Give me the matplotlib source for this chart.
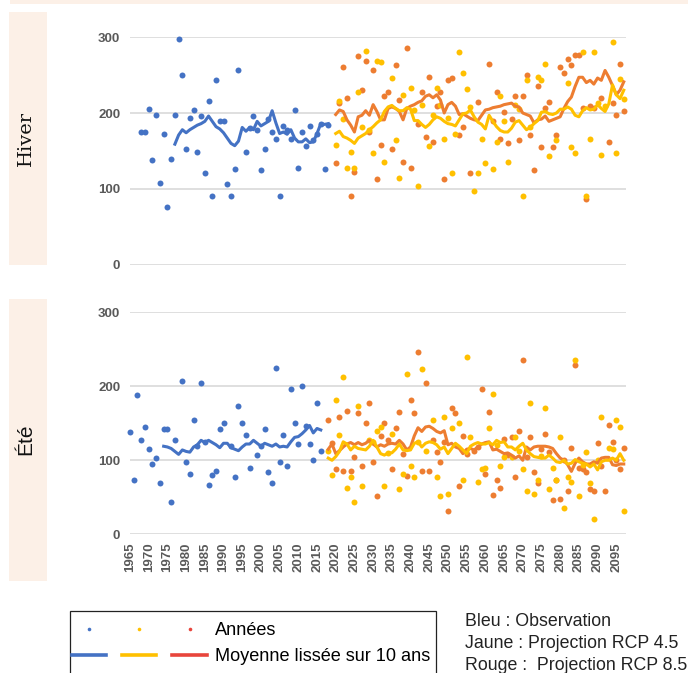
import matplotlib
matplotlib.use("Agg")
import matplotlib.pyplot as plt
from matplotlib.patches import Rectangle
from matplotlib.lines import Line2D
from matplotlib.legend_handler import HandlerTuple

plt.rcParams['font.family'] = ['Liberation Sans', 'DejaVu Sans']

BLUE = '#4472C4'
YELLOW = '#FFC000'
ORANGE = '#ED7D31'
RED = '#E8453C'
PEACH = '#FCF0E7'
GREY = '#595959'

# ---------------- Hiver ----------------
hiver_obs_years = list(range(1968, 1995)) + list(range(1996, 2019))
hiver_obs = [175, 175, 205, 138, 197, 108, 173, 76, 139, 197,
             297, 250, 153, 194, 204, 149, 196, 121, 216, 91,
             243, 190, 189, 106, 91, 126, 257,
             149, 180, 196, 178, 125, 153, 192, 175, 166, 91,
             183, 178, 166, 204, 128, 175, 157, 183, 164, 173,
             186, 126, 184]
hiver_obs_smooth_years = list(range(1977, 2019))
hiver_obs_smooth = [159, 171, 178, 174, 178, 181, 184, 186, 189, 196,
                    189, 182, 179, 174, 167, 160, 157, 163, 181, 176,
                    181, 178, 189, 183, 186, 189, 203, 187, 173, 175,
                    172, 178, 167, 162, 162, 166, 161, 162, 173, 186,
                    185, 186]

hiver_rcp45_years = [2020, 2021, 2022, 2023, 2024, 2025, 2026, 2027, 2028, 2029,
                     2030, 2031, 2032, 2033, 2035, 2036, 2037, 2038, 2040, 2041,
                     2042, 2043, 2045, 2046, 2047, 2048, 2049, 2050, 2051, 2052,
                     2053, 2054, 2055, 2056, 2057, 2058, 2059, 2060, 2062, 2063,
                     2064, 2065, 2066, 2068, 2069, 2070, 2071, 2072, 2074, 2075,
                     2076, 2077, 2079, 2082, 2083, 2084, 2086, 2087, 2088, 2089,
                     2090, 2091, 2092, 2094, 2095, 2096, 2097]
hiver_rcp45 = [158, 216, 192, 128, 149, 127, 228, 181, 282, 178,
               147, 269, 267, 136, 246, 164, 115, 224, 233, 204,
               104, 211, 157, 197, 233, 211, 166, 194, 121, 173,
               280, 252, 232, 208, 98, 121, 166, 134, 126, 162,
               222, 189, 136, 211, 205, 91, 243, 181, 248, 244,
               265, 143, 164, 239, 155, 147, 280, 91, 166, 280,
               213, 145, 209, 293, 147, 245, 218]

hiver_rcp85_years = [2020, 2021, 2022, 2023, 2024, 2025, 2026, 2027, 2028, 2029,
                     2030, 2031, 2032, 2033, 2034, 2035, 2036, 2037, 2038, 2039,
                     2040, 2042, 2043, 2044, 2045, 2046, 2047, 2048, 2049, 2050,
                     2051, 2053, 2054, 2056, 2058, 2061, 2062, 2063, 2064, 2065,
                     2066, 2067, 2068, 2069, 2070, 2071, 2072, 2073, 2074, 2075,
                     2076, 2077, 2078, 2079, 2080, 2081, 2082, 2083, 2084, 2085,
                     2086, 2087, 2088, 2089, 2091, 2093, 2094, 2095, 2096, 2097]
hiver_rcp85 = [134, 213, 260, 220, 91, 123, 275, 230, 269, 175,
               256, 113, 158, 222, 228, 153, 263, 217, 136, 286,
               128, 186, 228, 168, 248, 162, 209, 228, 113, 243,
               246, 171, 181, 121, 214, 265, 190, 228, 166, 201,
               160, 192, 223, 164, 222, 250, 171, 125, 235, 155,
               207, 214, 155, 171, 261, 252, 271, 263, 276, 276,
               207, 87, 209, 207, 220, 162, 213, 198, 265, 203]

hiver_proj_smooth_years = list(range(2020, 2098))
hiver_rcp45_smooth = [173, 176, 169, 167, 164, 160, 167, 170, 173, 178,
                      182, 187, 191, 202, 208, 210, 206, 203, 203, 207,
                      205, 190, 190, 185, 181, 185, 191, 195, 193, 189,
                      186, 185, 183, 191, 199, 200, 204, 195, 188, 185,
                      179, 197, 189, 182, 177, 175, 175, 180, 188, 190,
                      184, 178, 181, 186, 190, 201, 202, 199, 198, 200,
                      205, 205, 208, 205, 197, 195, 203, 207, 204, 205,
                      211, 206, 202, 212, 237, 224, 219, 230]
hiver_rcp85_smooth = [198, 204, 202, 191, 184, 175, 195, 197, 203, 197,
                      211, 202, 191, 191, 206, 208, 206, 202, 191, 206,
                      209, 211, 214, 216, 222, 224, 220, 224, 217, 200,
                      211, 214, 209, 198, 199, 196, 193, 191, 190, 197,
                      204, 205, 207, 208, 209, 211, 212, 213, 209, 208,
                      200, 198, 196, 187, 191, 192, 196, 189, 191, 193,
                      195, 206, 215, 221, 235, 247, 247, 240, 243, 238,
                      246, 243, 256, 247, 236, 224, 230, 241]

# ---------------- Été ----------------
ete_obs_years = (list(range(1965, 1978)) + list(range(1979, 1991))
                 + list(range(1992, 1998)) + list(range(1999, 2017)))
ete_obs = [138, 73, 188, 128, 145, 115, 95, 103, 69, 142, 142, 44, 128,
           207, 98, 82, 154, 119, 205, 125, 67, 80, 86, 142, 150,
           119, 78, 173, 150, 134, 90,
           107, 119, 142, 84, 69, 225, 98, 134, 92, 196, 151, 122, 201,
           146, 122, 101, 177, 113]
ete_obs_smooth_years = list(range(1974, 2017))
ete_obs_smooth = [119, 118, 116, 112, 108, 114, 112, 111, 118, 121,
                  127, 124, 127, 124, 121, 117, 123, 123, 117, 115,
                  113, 118, 122, 122, 127, 123, 119, 123, 121, 119,
                  122, 118, 119, 118, 125, 131, 132, 136, 141, 147,
                  137, 143, 141]

ete_rcp45_years = [2018, 2019, 2020, 2021, 2022, 2023, 2024, 2025, 2026, 2027,
                   2029, 2030, 2031, 2032, 2033, 2034, 2035, 2037, 2038, 2039,
                   2040, 2041, 2042, 2043, 2044, 2046, 2047, 2048, 2049, 2050,
                   2051, 2053, 2054, 2055, 2056, 2058, 2059, 2060, 2061, 2062,
                   2063, 2064, 2065, 2067, 2068, 2069, 2070, 2071, 2072, 2073,
                   2074, 2075, 2076, 2077, 2078, 2079, 2080, 2081, 2082, 2083,
                   2084, 2085, 2086, 2087, 2088, 2089, 2090, 2091, 2093, 2094,
                   2095, 2096, 2097]
ete_rcp45 = [113, 80, 182, 134, 213, 63, 77, 44, 173, 65,
             127, 125, 139, 145, 65, 110, 136, 61, 81, 217,
             92, 77, 125, 223, 113, 154, 77, 52, 158, 55,
             144, 150, 74, 240, 131, 71, 88, 90, 144, 190,
             121, 92, 105, 105, 131, 113, 88, 58, 177, 54,
             74, 106, 171, 61, 90, 73, 132, 36, 77, 71,
             236, 52, 93, 111, 69, 21, 101, 158, 117, 115,
             154, 145, 31]

ete_rcp85_years = [2018, 2019, 2020, 2021, 2022, 2023, 2024, 2025, 2026, 2027,
                   2028, 2029, 2030, 2031, 2032, 2033, 2034, 2035, 2036, 2037,
                   2038, 2039, 2040, 2041, 2042, 2043, 2044, 2045, 2046, 2047,
                   2048, 2049, 2050, 2051, 2052, 2053, 2054, 2055, 2057, 2058,
                   2059, 2060, 2061, 2062, 2063, 2064, 2065, 2066, 2067, 2068,
                   2069, 2070, 2071, 2072, 2073, 2074, 2075, 2076, 2077, 2078,
                   2079, 2080, 2081, 2082, 2083, 2084, 2085, 2086, 2087, 2088,
                   2089, 2090, 2091, 2092, 2093, 2094, 2095, 2096, 2097]
ete_rcp85 = [154, 123, 88, 158, 86, 167, 86, 104, 164, 92,
             150, 177, 98, 52, 133, 150, 128, 88, 144, 165,
             109, 79, 181, 164, 246, 86, 205, 86, 128, 111,
             98, 125, 31, 171, 164, 65, 133, 109, 112, 118,
             196, 82, 165, 53, 74, 63, 129, 107, 131, 77,
             140, 236, 105, 132, 84, 69, 115, 136, 111, 46,
             74, 48, 101, 58, 117, 229, 90, 88, 84, 61,
             58, 123, 92, 58, 148, 125, 101, 88, 117]

ete_proj_smooth_years = list(range(2018, 2098))
ete_rcp45_smooth = [103, 100, 105, 112, 125,
                    122, 114, 119, 116, 115, 114, 119,
                    127, 118, 109, 107, 110, 110, 115, 122, 114, 113,
                    114, 123, 125, 118, 123, 125, 124, 121, 115, 118,
                    109, 116, 123, 119, 114, 109, 119, 122, 124, 122,
                    122, 124, 121, 127, 124, 125, 118, 118, 114, 119,
                    123, 114, 109, 105, 104, 103, 103, 107, 103, 98,
                    97, 100, 95, 96, 101, 98, 96, 95, 91, 95,
                    87, 98, 100, 100, 103, 100, 109, 100]
ete_rcp85_smooth = [115, 122, 109, 113, 118,
                    122, 124, 121, 124, 121, 123, 127,
                    122, 118, 121, 119, 122, 123, 122, 127, 122, 114,
                    118, 133, 144, 139, 145, 146, 143, 139, 137, 140,
                    121, 123, 118, 116, 109, 115, 116, 114, 118, 122,
                    124, 125, 114, 115, 112, 109, 110, 107, 103, 106,
                    100, 118, 114, 118, 119, 119, 119, 118, 116, 109,
                    103, 100, 94, 85, 96, 103, 98, 95, 95, 98,
                    96, 103, 104, 104, 94, 93, 95, 95]

x_ticks = list(range(1965, 2100, 5))
y_ticks = [0, 100, 200, 300]

W, H = 688, 673
fig = plt.figure(figsize=(W / 100, H / 100), dpi=100)


def fx(px):
    return px / W


def fy(px):
    return 1 - px / H


# peach decorations
fig.add_artist(Rectangle((fx(10), fy(4)), 1, 4 / H, transform=fig.transFigure,
                         color=PEACH, lw=0))
fig.add_artist(Rectangle((fx(9), fy(265)), 38 / W, 253 / H, transform=fig.transFigure,
                         color=PEACH, lw=0))
fig.add_artist(Rectangle((fx(9), fy(581)), 38 / W, 282 / H, transform=fig.transFigure,
                         color=PEACH, lw=0))
fig.text(fx(26), fy(138), 'Hiver', rotation=90, ha='center', va='center',
         family='DejaVu Serif', fontsize=14, color='#111111')
fig.text(fx(26), fy(439), 'Été', rotation=90, ha='center', va='center',
         fontsize=15, color='#111111')

ax1 = fig.add_axes([fx(130), fy(265), 496 / W, 228 / H])
ax2 = fig.add_axes([fx(130), fy(534.3), 496 / W, 222 / H])


def panel(ax, obs_y, obs, obs_sy, obs_s, y45, v45, y85, v85, proj_y, s45, s85):
    ms = 4.3
    ax.plot(obs_y, obs, 'o', ms=ms, color=BLUE, mec='none', clip_on=False)
    ax.plot(y85, v85, 'o', ms=ms, color=ORANGE, mec='none', clip_on=False)
    ax.plot(y45, v45, 'o', ms=ms, color=YELLOW, mec='none', clip_on=False)
    ax.plot(obs_sy, obs_s, color=BLUE, lw=2.2)
    ax.plot(proj_y, s85, color=ORANGE, lw=2.2)
    ax.plot(proj_y, s45, color=YELLOW, lw=2.2)
    ax.set_xlim(1965, 2097.6)
    ax.set_ylim(0, 300)
    ax.set_yticks(y_ticks)
    ax.set_xticks(x_ticks)
    ax.yaxis.grid(True, color='#D9D9D9', lw=1.2)
    ax.set_axisbelow(True)
    for s in ax.spines.values():
        s.set_visible(False)
    ax.tick_params(length=0, colors=GREY, labelsize=9.5, pad=7)
    for t in ax.get_yticklabels():
        t.set_fontweight('bold')
    for t in ax.get_xticklabels():
        t.set_fontweight('bold')
        t.set_rotation(90)


panel(ax1, hiver_obs_years, hiver_obs, hiver_obs_smooth_years, hiver_obs_smooth,
      hiver_rcp45_years, hiver_rcp45, hiver_rcp85_years, hiver_rcp85,
      hiver_proj_smooth_years, hiver_rcp45_smooth, hiver_rcp85_smooth)
ax1.tick_params(axis='x', labelbottom=False)

panel(ax2, ete_obs_years, ete_obs, ete_obs_smooth_years, ete_obs_smooth,
      ete_rcp45_years, ete_rcp45, ete_rcp85_years, ete_rcp85,
      ete_proj_smooth_years, ete_rcp45_smooth, ete_rcp85_smooth)
ax2.tick_params(axis='x', pad=6)

# legend box (runs past the bottom edge, as in the original)
fig.add_artist(Rectangle((fx(70), fy(700)), 366 / W, 89 / H, transform=fig.transFigure,
                         facecolor='none', edgecolor='#222222', lw=0.9))
dots = tuple(Line2D([], [], ls='none', marker='o', ms=2.6, color=c, mec='none')
             for c in (BLUE, YELLOW, RED))
lines = tuple(Line2D([], [], color=c, lw=2.6) for c in (BLUE, YELLOW, RED))
fs = 13.1
bp = 0.62
fig.legend([dots, lines], ['Années', 'Moyenne lissée sur 10 ans'],
           handler_map={tuple: HandlerTuple(ndivide=None, pad=0.88)},
           loc='upper left', bbox_to_anchor=(fx(72 - bp * fs * 1.389), fy(611)),
           bbox_transform=fig.transFigure, borderaxespad=0,
           prop={'size': fs}, handlelength=7.4, handletextpad=0.44,
           borderpad=bp, labelspacing=0.5, frameon=False)

notes = ['Bleu : Observation', 'Jaune : Projection RCP 4.5',
         'Rouge :  Projection RCP 8.5']
for i, t in enumerate(notes):
    fig.text(fx(465), fy(621 + 22 * i), t, ha='left', va='center',
             fontsize=12.8, color='#222222')

fig.savefig('out.png', dpi=100)
